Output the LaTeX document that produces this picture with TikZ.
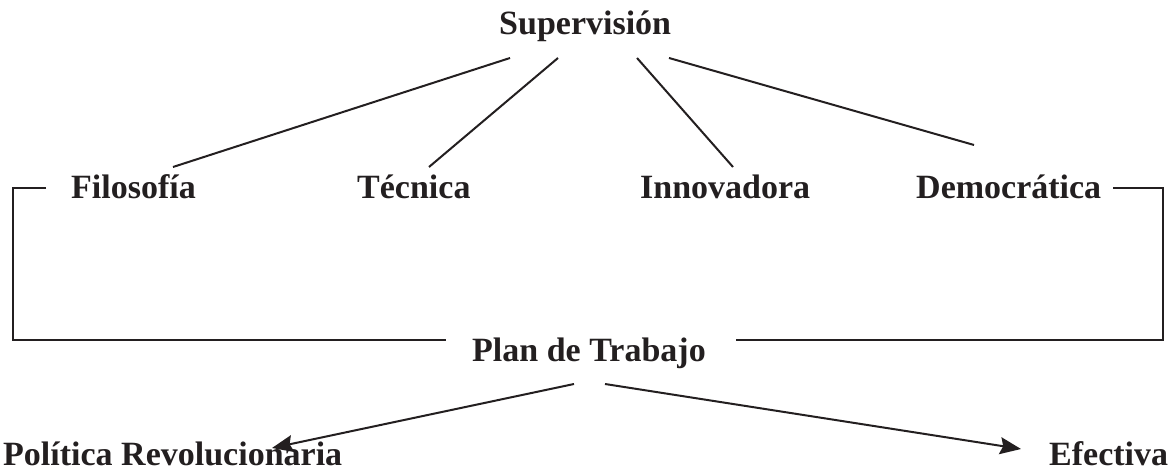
\documentclass[tikz,border=0pt]{standalone}
\usepackage{fontspec}
\setmainfont{Liberation Serif}
\usetikzlibrary{arrows.meta}
\definecolor{inkgray}{HTML}{231F20}

\begin{document}
\begin{tikzpicture}[x=1pt,y=1pt]
	\useasboundingbox (0,0) rectangle (1170,473);
	\begin{scope}[every node/.style={anchor=base west,inner sep=0pt,text=inkgray,
              font=\fontsize{34}{40}\selectfont\bfseries}]
    	\node (sup) at (499,438) {Supervisión};
    	\node (fil) at (71,274) {Filosofía};
    	\node (tec) at (357,274) {Técnica};
    	\node (inn) at (640,274) {Innovadora};
    	\node (dem) at (916,274) {Democrática};
    	\node (plan) at (472,111) {Plan de Trabajo};
    	\node (pol) at (3,7) {Política Revolucionaria};
    	\node (efe) at (1049,7) {Efectiva};
	\end{scope}
	\begin{scope}[line width=2pt, draw=inkgray,
              >={Stealth[length=21pt,width=17pt,inset=3pt]}]
    	% ramas de la supervision
    	\draw ([shift={(11,-23)}]sup.base west) -- ([shift={(102,32)}]fil.base west);
    	\draw ([shift={(59,-23)}]sup.base west) -- ([shift={(72,32)}]tec.base west);
    	\draw ([shift={(138,-23)}]sup.base west) -- ([shift={(93,32)}]inn.base west);
    	\draw ([shift={(170,-23)}]sup.base west) -- ([shift={(58,54)}]dem.base west);
    	% corchete hacia el plan
    	\draw ([shift={(-25,11)}]fil.base west) -- ++(-33,0) |- ([shift={(-26,22)}]plan.base west);
    	\draw ([shift={(12,11)}]dem.base east) -- ++(50,0) |- ([shift={(30,22)}]plan.base east);
    	% flechas
    	\draw [->] ([shift={(102,-22)}]plan.base west) -- ([shift={(269,18)}]pol.base west);
    	\draw [->] ([shift={(133,-22)}]plan.base west) -- ([shift={(-28,17)}]efe.base west);
	\end{scope}
\end{tikzpicture}
\end{document}
